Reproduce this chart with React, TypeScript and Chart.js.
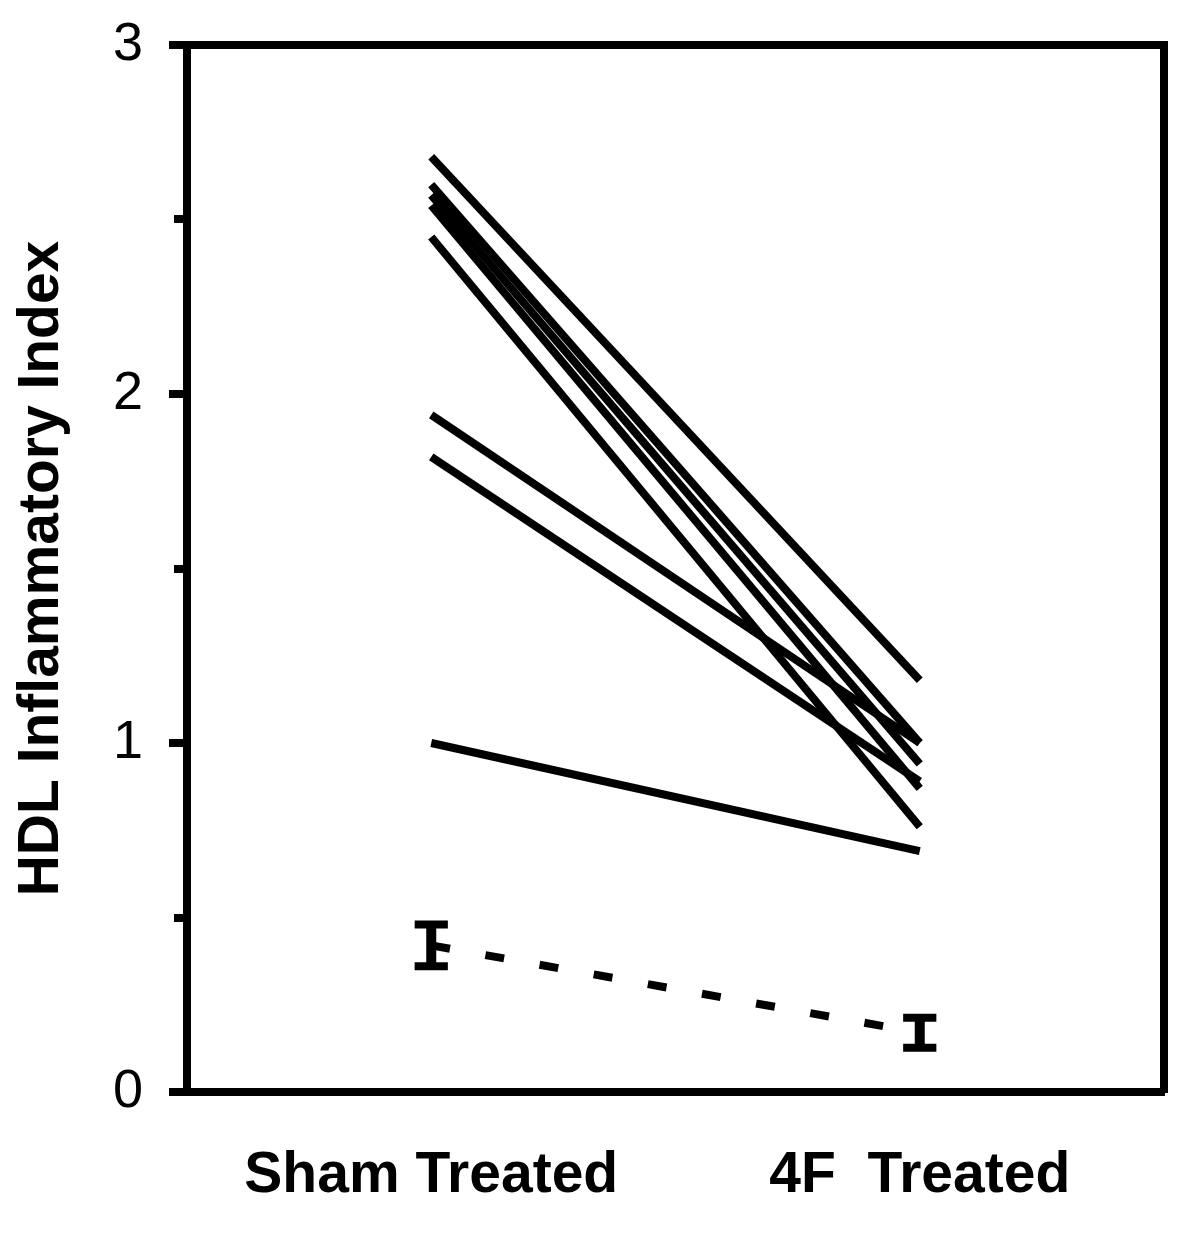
import React, { useEffect, useRef } from 'react';
import { Chart, registerables } from 'chart.js';

Chart.register(...registerables);

// ---- data ----
const groupLabels = ['Sham Treated', '4F  Treated'];
const groupX = [1, 3];
const shamValues = [2.68, 2.6, 2.57, 2.54, 2.45, 1.94, 1.82, 1.0];
const treatedValues = [1.18, 1.0, 0.94, 0.87, 0.76, 1.0, 0.89, 0.69];
const meanValues = [0.42, 0.17];
const semValues = [0.06, 0.043];
const yTickValues = [0, 0.5, 1, 1.5, 2, 2.5, 3];
const yLabelValues = [0, 1, 2, 3];
const yMinorTickValues = [0.5, 1.5, 2.5];
const yTitle = 'HDL Inflammatory Index';

const FONT = "'Liberation Sans', Arial, Helvetica, sans-serif";
const CAP_HALF = 0.068;

const minorTickPlugin = {
  id: 'minorTicks',
  afterDraw(chart: any) {
    const s = chart.scales.y;
    const ctx = chart.ctx;
    const left = chart.chartArea.left;
    ctx.save();
    ctx.strokeStyle = '#000';
    ctx.lineWidth = 8;
    ctx.lineCap = 'butt';
    yMinorTickValues.forEach((v) => {
      const y = Math.round(s.getPixelForValue(v));
      ctx.beginPath();
      ctx.moveTo(left - 13, y);
      ctx.lineTo(left, y);
      ctx.stroke();
    });
    ctx.restore();
  },
};

export default function App() {
  const ref = useRef<HTMLCanvasElement | null>(null);

  useEffect(() => {
    if (!ref.current) return;
    const base = {
      showLine: true,
      borderColor: '#000',
      backgroundColor: '#000',
      pointRadius: 0,
      pointHoverRadius: 0,
      borderCapStyle: 'butt',
      fill: false,
    };
    const datasets: any[] = [];
    shamValues.forEach((v, i) => {
      datasets.push({
        ...base,
        borderWidth: 8,
        data: [
          { x: groupX[0], y: v },
          { x: groupX[1], y: treatedValues[i] },
        ],
      });
    });
    datasets.push({
      ...base,
      borderWidth: 8,
      borderDash: [19, 36],
      data: groupX.map((x, i) => ({ x, y: meanValues[i] })),
    });
    groupX.forEach((x, i) => {
      const m = meanValues[i];
      const s = semValues[i];
      datasets.push({
        ...base,
        borderWidth: 10,
        data: [
          { x, y: m - s },
          { x, y: m + s },
        ],
      });
      datasets.push({
        ...base,
        borderWidth: 8,
        data: [
          { x: x - CAP_HALF, y: m + s },
          { x: x + CAP_HALF, y: m + s },
        ],
      });
      datasets.push({
        ...base,
        borderWidth: 8,
        data: [
          { x: x - CAP_HALF, y: m - s },
          { x: x + CAP_HALF, y: m - s },
        ],
      });
    });

    const chart = new Chart(ref.current, {
      type: 'scatter',
      data: { datasets },
      plugins: [minorTickPlugin],
      options: {
        animation: false,
        responsive: false,
        devicePixelRatio: 1,
        layout: { padding: 0 },
        plugins: {
          legend: { display: false },
          tooltip: { enabled: false },
        },
        scales: {
          x: {
            type: 'linear',
            position: 'bottom',
            min: 0,
            max: 4,
            afterBuildTicks: (s: any) => {
              s.ticks = groupX.map((v) => ({ value: v }));
            },
            afterFit: (s: any) => {
              s.height = 141;
              s.paddingLeft = 0;
              s.paddingRight = 0;
            },
            ticks: {
              autoSkip: false,
              maxRotation: 0,
              minRotation: 0,
              padding: 50,
              color: '#000',
              font: { family: FONT, size: 57, weight: 'bold' },
              callback: (v: any) => {
                const idx = groupX.indexOf(Number(v));
                return idx >= 0 ? groupLabels[idx] : '';
              },
            },
            grid: { display: false, drawTicks: false },
            border: { display: true, width: 8, color: '#000' },
          },
          y: {
            type: 'linear',
            position: 'left',
            min: 0,
            max: 3,
            afterBuildTicks: (s: any) => {
              s.ticks = yTickValues.map((v) => ({ value: v }));
            },
            afterFit: (s: any) => {
              s.width = 187;
              s.paddingTop = 0;
              s.paddingBottom = 0;
            },
            ticks: {
              padding: 26,
              color: '#000',
              font: { family: FONT, size: 54 },
              callback: (v: any) =>
                yLabelValues.includes(Number(v)) ? String(v) : '',
            },
            grid: {
              display: true,
              drawOnChartArea: false,
              drawTicks: true,
              tickLength: 18,
              tickWidth: 8,
              lineWidth: 8,
              tickColor: (ctx: any) =>
                ctx.tick && yLabelValues.includes(ctx.tick.value)
                  ? '#000'
                  : 'rgba(0,0,0,0)',
            },
            border: { display: true, width: 8, color: '#000' },
            title: {
              display: true,
              text: yTitle,
              color: '#000',
              font: { family: FONT, size: 57, weight: 'bold' },
              padding: { top: 8, bottom: 0 },
            },
          },
          x2: {
            type: 'linear',
            position: 'top',
            min: 0,
            max: 1,
            afterFit: (s: any) => {
              s.height = 45;
              s.paddingLeft = 0;
              s.paddingRight = 0;
            },
            ticks: { display: false },
            grid: { display: false, drawTicks: false },
            border: { display: true, width: 8, color: '#000' },
          },
          y2: {
            type: 'linear',
            position: 'right',
            min: 0,
            max: 1,
            afterFit: (s: any) => {
              s.width = 36;
              s.paddingTop = 0;
              s.paddingBottom = 0;
            },
            ticks: { display: false },
            grid: { display: false, drawTicks: false },
            border: { display: true, width: 8, color: '#000' },
          },
        },
      } as any,
    });
    return () => chart.destroy();
  }, []);

  return (
    <div style={{ position: 'absolute', left: 0, top: 0, width: 1200, height: 1233, background: '#fff' }}>
      <canvas ref={ref} width={1200} height={1233} style={{ display: 'block' }} />
    </div>
  );
}
